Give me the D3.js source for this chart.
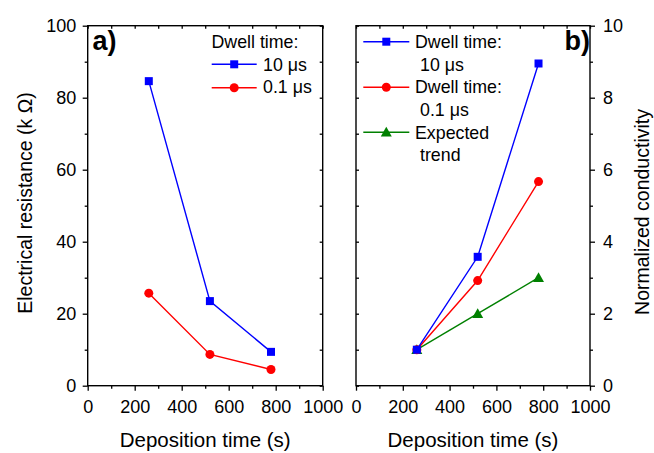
<!DOCTYPE html>
<html>
<head>
<meta charset="utf-8">
<script src="https://cdn.jsdelivr.net/npm/d3@7"></script>
<style>
  body { margin: 0; background: #fff; }
  text { font-family: "Liberation Sans", Arial, sans-serif; fill: #000; }
</style>
</head>
<body>
<svg width="654" height="453"></svg>
<script>
// deposition times (s)
const times = [260, 520, 780];

// panel a: electrical resistance (k ohm)
const resist10 = [84.6, 23.5, 9.4];
const resist01 = [25.7, 8.7, 4.5];

// panel b: normalized conductivity
const cond10 = [1, 3.58, 8.95];
const cond01 = [1, 2.92, 5.67];
const condExpected = [1, 2, 3];

const xTicks = [0, 200, 400, 600, 800, 1000];
const resistTicks = [0, 20, 40, 60, 80, 100];
const condTicks = [0, 2, 4, 6, 8, 10];

const svg = d3.select('svg');
const plotTop = 25.7, plotBottom = 385.7;

function drawPanel(opt) {
    const x = d3.scaleLinear().domain([0, 1000]).range([opt.left, opt.right]);
    const y = d3.scaleLinear().domain([0, opt.ymax]).range([plotBottom, plotTop]);
    const g = svg.append('g');

    // minor ticks, then major ticks + labels
    const xMinor = d3.range(100, 1000, 200);
    const yStep = opt.ymax / 10;
    const yMinor = d3.range(yStep, opt.ymax, yStep * 2);

    const xAxis = d3.axisBottom(x).tickValues(xTicks).tickSize(5).tickPadding(9.5).tickFormat(d3.format('d'));
    g.append('g').attr('transform', `translate(0,${plotBottom})`).call(xAxis);
    g.append('g').attr('transform', `translate(0,${plotBottom})`)
        .call(d3.axisBottom(x).tickValues(xMinor).tickSize(3).tickFormat(''));
    // top edge mirror ticks (inward)
    g.append('g').attr('transform', `translate(0,${plotTop})`)
        .call(d3.axisTop(x).tickValues(xTicks.concat(xMinor)).tickSize(-3).tickFormat(''));

    let yAxis, yMin, yMirror, axisX, mirrorX;
    if (opt.side === 'left') {
        axisX = opt.left; mirrorX = opt.right;
        yAxis = d3.axisLeft(y); yMin = d3.axisLeft(y); yMirror = d3.axisRight(y);
    } else {
        axisX = opt.right; mirrorX = opt.left;
        yAxis = d3.axisRight(y); yMin = d3.axisRight(y); yMirror = d3.axisLeft(y);
    }
    g.append('g').attr('transform', `translate(${axisX},0)`)
        .call(yAxis.tickValues(opt.yticks).tickSize(5).tickPadding(opt.side === 'left' ? 6.5 : 8).tickFormat(d3.format('d')));
    g.append('g').attr('transform', `translate(${axisX},0)`)
        .call(yMin.tickValues(yMinor).tickSize(3).tickFormat(''));
    g.append('g').attr('transform', `translate(${mirrorX},0)`)
        .call(yMirror.tickValues(opt.yticks.concat(yMinor)).tickSize(-3).tickFormat(''));

    g.selectAll('.domain').remove();
    g.selectAll('.tick line').attr('stroke', '#000').attr('stroke-width', 1.3);
    g.selectAll('.tick text').style('font-size', '18px')
        .style('font-family', '"Liberation Sans", Arial, sans-serif');

    // frame
    g.append('rect')
        .attr('x', opt.left).attr('y', plotTop)
        .attr('width', opt.right - opt.left).attr('height', plotBottom - plotTop)
        .attr('fill', 'none').attr('stroke', '#000').attr('stroke-width', 1.4);

    // series
    const line = d3.line().x((d, i) => x(times[i])).y(d => y(d));
    opt.series.forEach(s => {
        g.append('path').datum(s.values)
            .attr('fill', 'none').attr('stroke', s.color).attr('stroke-width', 1.4)
            .attr('d', line);
        drawMarkers(g, s, x, y);
    });

    // x label
    g.append('text')
        .attr('x', (opt.left + opt.right) / 2).attr('y', 447)
        .attr('text-anchor', 'middle').style('font-size', '20.5px')
        .text('Deposition time (s)');
    return { x, y, g };
}

function marker(g, shape, color, cx, cy) {
    if (shape === 'square') {
        g.append('rect').attr('x', cx - 4).attr('y', cy - 4).attr('width', 8).attr('height', 8)
            .attr('fill', color);
    } else if (shape === 'circle') {
        g.append('circle').attr('cx', cx).attr('cy', cy).attr('r', 4.5).attr('fill', color);
    } else {
        g.append('path').attr('transform', `translate(${cx},${cy})`)
            .attr('d', 'M0,-5.5L5.5,4.2L-5.5,4.2Z').attr('fill', color);
    }
}

function drawMarkers(g, s, x, y) {
    s.values.forEach((v, i) => marker(g, s.shape, s.color, x(times[i]), y(v)));
}

function legendRow(g, x0, x1, yy, s) {
    g.append('line').attr('x1', x0).attr('x2', x1).attr('y1', yy).attr('y2', yy)
        .attr('stroke', s.color).attr('stroke-width', 1.4);
    marker(g, s.shape, s.color, (x0 + x1) / 2, yy);
}

function addText(x, yy, str, size, weight) {
    svg.append('text').attr('x', x).attr('y', yy)
        .style('font-size', size + 'px').style('font-weight', weight || 'normal')
        .text(str);
}

const blue = '#0000ff', red = '#ff0000', green = '#008000';

// panel a
const a = drawPanel({
    left: 87.7, right: 322.7, ymax: 100, yticks: resistTicks, side: 'left',
    series: [
        { values: resist10, color: blue, shape: 'square' },
        { values: resist01, color: red, shape: 'circle' }
    ]
});

// panel b
const b = drawPanel({
    left: 356, right: 590, ymax: 10, yticks: condTicks, side: 'right',
    series: [
        { values: condExpected, color: green, shape: 'triangle' },
        { values: cond01, color: red, shape: 'circle' },
        { values: cond10, color: blue, shape: 'square' }
    ]
});

// y labels
svg.append('text')
    .attr('transform', 'translate(32,203) rotate(-90)')
    .attr('text-anchor', 'middle').style('font-size', '19.5px')
    .text('Electrical resistance (k \u03A9)');
svg.append('text')
    .attr('transform', 'translate(649,212) rotate(-90)')
    .attr('text-anchor', 'middle').style('font-size', '19.5px')
    .text('Normalized conductivity');

// panel tags
addText(92.5, 50, 'a)', 27, 'bold');
addText(564.5, 50, 'b)', 27, 'bold');

// legend a
const lf = 17.8;
addText(211.5, 48.3, 'Dwell time:', lf);
legendRow(svg, 211.7, 256.7, 64.3, { color: blue, shape: 'square' });
addText(263, 70.5, '10 \u03BCs', lf);
legendRow(svg, 211.7, 256.7, 87.7, { color: red, shape: 'circle' });
addText(263, 93.3, '0.1 \u03BCs', lf);

// legend b
legendRow(svg, 363.3, 409.3, 41.7, { color: blue, shape: 'square' });
addText(415, 48.3, 'Dwell time:', lf);
addText(420, 70.5, '10 \u03BCs', lf);
legendRow(svg, 363.3, 409.3, 87.3, { color: red, shape: 'circle' });
addText(415, 93.3, 'Dwell time:', lf);
addText(420, 115.8, '0.1 \u03BCs', lf);
legendRow(svg, 363.3, 409.3, 132.3, { color: green, shape: 'triangle' });
addText(415, 138.5, 'Expected', lf);
addText(420, 161, 'trend', lf);
</script>
</body>
</html>
